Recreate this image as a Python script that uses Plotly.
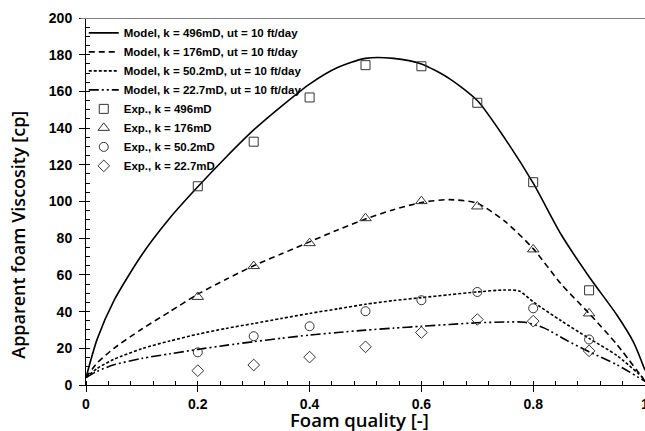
import plotly.graph_objects as go

# Experimental data
x_exp = [0.2, 0.3, 0.4, 0.5, 0.6, 0.7, 0.8, 0.9]
exp_496 = [108.3, 132.6, 156.7, 174.3, 173.7, 153.8, 110.5, 51.6]
exp_176 = [48.0, 64.8, 77.3, 90.9, 100.2, 97.3, 73.9, 39.0]
exp_50 = [17.8, 26.6, 32.0, 40.2, 46.2, 50.7, 41.8, 24.8]
exp_22 = [7.8, 10.9, 15.2, 20.8, 28.6, 35.7, 34.8, 18.6]

# Model curves
m496_x = [0, 0.02, 0.05, 0.1, 0.15, 0.2, 0.25, 0.3, 0.35, 0.4, 0.45, 0.5, 0.55, 0.6, 0.65, 0.7, 0.75, 0.8, 0.85, 0.9, 0.95, 0.98, 1.0]
m496_y = [4, 25, 46, 71, 91, 108, 124, 139, 152, 164, 173, 178, 178, 175, 167, 155, 134, 110, 82, 59, 38, 23, 8]

m176_x = [0, 0.02, 0.05, 0.1, 0.15, 0.2, 0.25, 0.3, 0.35, 0.4, 0.45, 0.5, 0.55, 0.6, 0.65, 0.7, 0.75, 0.8, 0.85, 0.9, 0.95, 1.0]
m176_y = [4, 12, 20, 30.5, 40, 49.5, 57.5, 65, 71.5, 78, 84.5, 90.5, 95.5, 99.5, 101, 99, 89, 74.3, 55, 39, 22, 2]

m50_x = [0, 0.02, 0.05, 0.1, 0.15, 0.2, 0.25, 0.3, 0.35, 0.4, 0.45, 0.5, 0.55, 0.6, 0.65, 0.7, 0.75, 0.775, 0.8, 0.85, 0.9, 0.95, 1.0]
m50_y = [4, 9, 14, 19.8, 24, 27.7, 30.8, 33.5, 36.3, 39, 41.5, 44, 46, 47.6, 49.2, 50.7, 51.8, 51.2, 45.3, 35, 25.4, 16, 3]

m22_x = [0, 0.02, 0.05, 0.1, 0.15, 0.2, 0.25, 0.3, 0.35, 0.4, 0.45, 0.5, 0.55, 0.6, 0.65, 0.7, 0.75, 0.785, 0.82, 0.86, 0.9, 0.95, 1.0]
m22_y = [4, 7.5, 11, 14.5, 17, 19.4, 21.6, 23.6, 25.5, 27.2, 28.6, 29.9, 31, 32, 33, 33.9, 34.3, 34.2, 31, 24.3, 18.1, 11, 2]

model_names = [
    "Model, k = 496mD, ut = 10 ft/day",
    "Model, k = 176mD, ut = 10 ft/day",
    "Model, k = 50.2mD, ut = 10 ft/day",
    "Model, k = 22.7mD, ut = 10 ft/day",
]
exp_names = [
    "Exp., k = 496mD",
    "Exp., k = 176mD",
    "Exp., k = 50.2mD",
    "Exp., k = 22.7mD",
]
x_tick_vals = [0, 0.2, 0.4, 0.6, 0.8, 1.0]
x_tick_text = ["0", "0.2", "0.4", "0.6", "0.8", "1"]

fig = go.Figure()

dashes = ["solid", "6px,4px", "3px,2px", "10px,3px,2px,3px,2px,3px"]
models = [(m496_x, m496_y), (m176_x, m176_y), (m50_x, m50_y), (m22_x, m22_y)]
for (mx, my), name, d in zip(models, model_names, dashes):
    fig.add_trace(go.Scatter(
        x=mx, y=my, mode="lines", name=name,
        line=dict(color="black", width=1.6, dash=d, shape="spline", smoothing=0.7),
    ))

symbols = ["square-open", "triangle-up-open", "circle-open", "diamond-open"]
sizes = [9, 10, 9, 9]
for ys, name, sym, sz in zip([exp_496, exp_176, exp_50, exp_22], exp_names, symbols, sizes):
    fig.add_trace(go.Scatter(
        x=x_exp, y=ys, mode="markers", name=name,
        marker=dict(symbol=sym, size=sz, color="#333333", line=dict(color="#333333", width=1)),
    ))

tickfont = dict(family="Liberation Sans", size=14, color="black", weight="bold")
xtitlefont = dict(family="Open Sans", size=18.5, color="black", weight=600)
ytitlefont = dict(family="Open Sans", size=18, color="black", weight=600)

fig.update_layout(
    width=645, height=431,
    margin=dict(l=86, r=0, t=18, b=46),
    paper_bgcolor="white", plot_bgcolor="white",
    showlegend=True,
    legend=dict(
        x=-0.004, y=0.999, xanchor="left", yanchor="top",
        bgcolor="rgba(0,0,0,0)",
        font=dict(family="Liberation Sans", size=11.5, color="black", weight="bold"),
        itemwidth=30, tracegroupgap=0,
    ),
    xaxis=dict(
        range=[0, 1], tickvals=x_tick_vals, ticktext=x_tick_text,
        showgrid=False, zeroline=False, showline=True, linecolor="black", linewidth=1,
        ticks="outside", ticklen=6, tickcolor="black", tickfont=tickfont,
        ticklabeloverflow="allow",
        minor=dict(dtick=0.04, tick0=0, ticks="inside", ticklen=4, tickcolor="black", showgrid=False),
        automargin=False,
    ),
    yaxis=dict(
        range=[0, 200], dtick=20, tick0=0,
        showgrid=False, zeroline=False, showline=True, linecolor="black", linewidth=1,
        ticks="outside", ticklen=6, tickcolor="black", tickfont=tickfont, ticklabelstandoff=4,
        minor=dict(dtick=5, tick0=0, ticks="inside", ticklen=4, tickcolor="black", showgrid=False),
        automargin=False,
    ),
    annotations=[
        dict(text="Foam quality [-]", xref="paper", yref="paper", x=0.49, y=-0.095,
             xanchor="center", yanchor="middle", showarrow=False, font=xtitlefont),
        dict(text="Apparent foam Viscosity [cp]", xref="paper", yref="paper", x=-0.123, y=0.41,
             xanchor="center", yanchor="middle", textangle=-90, showarrow=False, font=ytitlefont),
    ],
    shapes=[dict(type="line", xref="paper", yref="y", x0=-0.01, x1=1.0, y0=200, y1=200,
                 line=dict(color="#808080", width=2))],
)

fig.write_html("out.html")
